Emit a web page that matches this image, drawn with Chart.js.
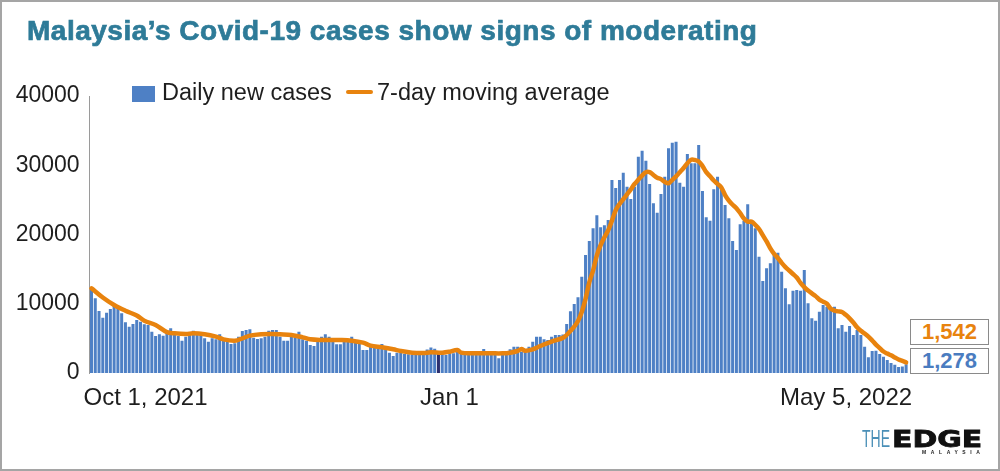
<!DOCTYPE html>
<html><head><meta charset="utf-8">
<script src="https://cdn.jsdelivr.net/npm/chart.js@4.4.0/dist/chart.umd.min.js"></script>
<style>
html,body{margin:0;padding:0;background:#fff;}
#wrap{position:relative;width:1000px;height:471px;overflow:hidden;font-family:"Liberation Sans",Arial,sans-serif;background:#fff;}
#frame{position:absolute;left:0;top:0;width:1000px;height:471px;box-sizing:border-box;border:2px solid #a5a5a5;pointer-events:none;}
canvas{position:absolute;left:0;top:0;}
#title{position:absolute;left:27px;top:17px;font-weight:bold;font-size:28px;line-height:28px;color:#2e7b98;white-space:nowrap;letter-spacing:0.5px;-webkit-text-stroke:0.7px #2e7b98;}
.leg{position:absolute;font-size:23.5px;line-height:23px;color:#1e1e1e;white-space:nowrap;}
.sw{position:absolute;}
.vbox{position:absolute;left:910px;width:79px;height:26px;box-sizing:border-box;border:1.5px solid #8a8a8a;background:#fff;font-weight:bold;font-size:22px;line-height:23px;text-align:center;}
#logo{position:absolute;left:862px;top:428px;height:30px;width:130px;}
#logo .the{position:absolute;left:0;top:0;font-size:23px;line-height:23px;color:#4a8fb7;transform:scaleX(0.61);transform-origin:0 0;white-space:nowrap;}
#logo .edge{position:absolute;left:30px;top:0;font-family:"DejaVu Sans",sans-serif;font-weight:bold;font-size:23px;line-height:23px;color:#111;transform:scaleX(1.3);transform-origin:0 0;-webkit-text-stroke:0.8px #111;white-space:nowrap;}
#logo .my{position:absolute;left:60px;top:22px;font-size:5px;line-height:5px;font-weight:bold;letter-spacing:4.6px;color:#222;white-space:nowrap;}
</style>
</head><body>
<div id="wrap">
<canvas id="c" width="1000" height="471"></canvas>
<div id="title">Malaysia’s Covid-19 cases show signs of moderating</div>
<div class="sw" style="left:132px;top:86px;width:23px;height:16px;background:#4e80c5;"></div>
<div class="leg" style="left:162px;top:81px;">Daily new cases</div>
<div class="sw" style="left:346px;top:90px;width:27px;height:4px;background:#e8830e;border-radius:2px;"></div>
<div class="leg" style="left:377px;top:81px;">7-day moving average</div>
<div class="vbox" style="top:319px;color:#e8830e;" id="v1"></div>
<div class="vbox" style="top:348px;color:#4a7cc0;" id="v2"></div>
<div id="logo"><span class="the">THE</span><span class="edge">EDGE</span><span class="my">MALAYSIA</span></div>
<div id="frame"></div>
</div>
<script>
// ---- data ----
const startDate = [2021, 9, 1]; // Oct 1, 2021
const dayCount = 217;           // Oct 1, 2021 .. May 5, 2022
const dailyCases = [
 12087,10786,8953,7990,8712,9242,9866,9674,8616,7318,6690,7075,7653,7413,7036,6931,5966,5343,5584,5391,
 5823,6448,5966,5343,4666,5246,5728,6111,5823,5823,5006,4522,5006,4862,5584,4862,4522,4188,4281,5246,
 6060,6209,6330,5100,4900,
 5006,5246,6111,6209,6209,5246,4666,4666,5246,5246,5966,4862,4666,4043,3899,4522,5246,5584,5246,4862,
 4140,4140,4765,4522,5246,4522,4380,3321,3321,3803,3803,3803,4188,3418,2936,2455,2936,2936,2744,2696,
 2599,2599,2599,2696,3400,3700,
 3500,
 3081,2744,2599,3081,2840,3321,2840,2696,2696,2840,2840,2696,3466,2985,2840,2936,2118,2840,2936,3418,
 3803,3803,3081,3321,3803,4522,5246,5246,4862,4765,5246,5487,5487,5560,7075,8900,9964,
 10926,13906,17040,19061,20894,22771,21038,21327,22093,27869,26714,27869,28928,26906,25126,26906,31239,32105,30661,27292,
 24505,23150,25849,28350,32442,33261,33405,27484,26906,31624,
 30280,30280,32923,26281,22482,21990,26521,28350,26906,24259,22338,19061,17761,21471,21990,24355,21616,20894,16799,13285,
 15113,15835,17184,17377,14632,12226,9918,11886,11985,11886,
 14873,10060,7893,7556,8856,9819,9578,9482,9578,6449,6931,5967,6787,5487,6209,5487,3803,2262,3177,3225,
 2744,2358,1877,1450,1200,850,950,1278
];
// 7-day moving average, read at these day indexes
const maDay = [0,3,6,9,12,14,17,20,22,25,27,30,33,35,38,40,42,45,48,50,53,56,58,61,64,66,69,72,74,77,80,82,85,88,90,93,95,97,98,101,103,106,109,111,113,114,115,117,119,122,125,126,128,129,130,131,132,133,134,135,136,137,138,139,140,141,142,143,144,145,146,147,148,149,150,151,152,153,154,155,156,157,158,159,160,161,162,163,164,165,166,167,168,169,170,171,172,173,174,175,176,177,178,179,180,181,182,183,184,185,186,187,188,189,190,191,192,193,194,195,196,197,198,199,200,201,202,203,204,205,206,207,208,209,210,211,212,213,214,215,216];
const maValue = [12230,10900,9819,8996,8300,7552,6931,5900,5728,5632,5728,5584,5246,4862,4666,5006,5400,5600,5632,5584,5487,5150,4862,4765,4765,4765,4669,4380,3947,3707,3418,3177,2936,2880,2985,2936,3081,3321,2936,2840,2840,2840,2840,2936,3177,3466,3225,3418,3899,4522,5080,5487,6690,7500,8800,10700,13100,14800,17000,18450,19600,20600,22000,23500,24400,25100,25800,26500,27300,27900,28500,29000,29000,28600,28200,28000,27600,27400,27900,28400,29000,29600,30300,30800,30750,30550,29900,29000,28400,27800,27300,26800,25700,24900,24300,23800,23100,22300,21850,21850,21400,20800,19900,19000,18000,17200,16600,15900,15300,14800,14300,13800,13000,12400,11900,11500,11100,10600,10300,10000,9300,9000,8900,8800,8400,7900,7300,6600,6100,5700,5250,4700,4100,3600,3100,2800,2550,2250,1950,1750,1542];
const yTicks = [0,10000,20000,30000,40000];
const xTickText = ['Oct 1, 2021','Jan 1','May 5, 2022'];
const xTickDay = [0,92,216];
const highlightDay = 92;
const lastAverageText = '1,542';
const lastDailyText = '1,278';

// ---- build ----
const categories = [];
for (let i = 0; i < dayCount; i++) {
  const d = new Date(startDate[0], startDate[1], startDate[2] + i);
  categories.push(d.getFullYear() + '-' + (d.getMonth() + 1) + '-' + d.getDate());
}
const maData = new Array(dayCount).fill(null);
maDay.forEach((d, k) => { maData[d] = maValue[k]; });
document.getElementById('v1').textContent = lastAverageText;
document.getElementById('v2').textContent = lastDailyText;

const BLUE = '#4e80c5', DARK = '#2c2f6e', ORANGE = '#e8830e';

const xLabelPlugin = {
  id: 'xLabels',
  afterDraw(chart) {
    const xs = chart.scales.x, ctx = chart.ctx;
    ctx.save();
    ctx.font = '24px "Liberation Sans", Arial, sans-serif';
    ctx.fillStyle = '#1e1e1e';
    ctx.textBaseline = 'middle';
    const aligns = ['left','center','right'];
    const offs = [-8, 11, 6];
    xTickDay.forEach((d, k) => {
      ctx.textAlign = aligns[k];
      ctx.fillText(xTickText[k], xs.getPixelForValue(d) + offs[k], 398);
    });
    ctx.restore();
  }
};

new Chart(document.getElementById('c'), {
  type: 'bar',
  data: {
    labels: categories,
    datasets: [
      { type: 'line', label: '7-day moving average', data: maData, order: 0,
        borderColor: ORANGE, borderWidth: 4.5, pointRadius: 0, tension: 0.35,
        spanGaps: true, borderCapStyle: 'round', borderJoinStyle: 'round' },
      { type: 'bar', label: 'Daily new cases', data: dailyCases, order: 1,
        backgroundColor: c => c.dataIndex === highlightDay ? DARK : BLUE,
        barPercentage: 0.8, categoryPercentage: 1.0 }
    ]
  },
  options: {
    responsive: false, animation: false, devicePixelRatio: 1,
    layout: { padding: { left: 0, right: 92, top: 96, bottom: 98 } },
    plugins: { legend: { display: false }, tooltip: { enabled: false }, title: { display: false } },
    scales: {
      x: { display: false, offset: true },
      y: {
        min: 0, max: 40000,
        afterFit: s => { s.width = 89.6; },
        afterBuildTicks: s => { s.ticks = yTicks.map(v => ({ value: v })); },
        grid: { display: false, drawTicks: false },
        border: { display: true, color: '#9a9a9a', width: 1 },
        ticks: { padding: 10, color: '#1e1e1e', font: { family: 'Liberation Sans', size: 23 },
                 callback: v => String(v) }
      }
    }
  },
  plugins: [xLabelPlugin]
});
</script>
</body></html>
